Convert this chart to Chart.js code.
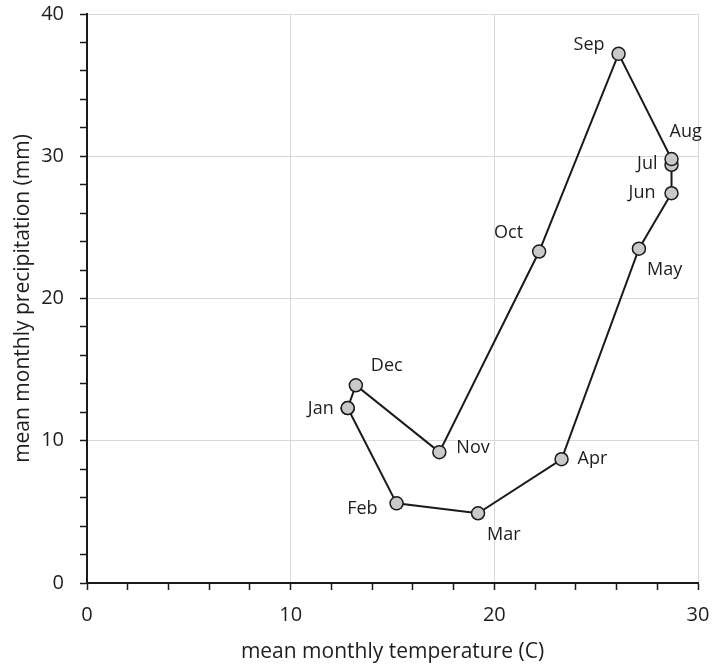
<!DOCTYPE html>
<html lang="en">
<head>
  <meta charset="UTF-8" />
  <title>Monthly temperature vs precipitation</title>
  <script src="https://cdn.jsdelivr.net/npm/chart.js"></script>
  <style>
    html, body { margin: 0; padding: 0; background: #fff; }
    #wrap { width: 713px; height: 669px; }
  </style>
</head>
<body>
  <div id="wrap"><canvas id="climChart" width="713" height="669"></canvas></div>

  <script>
    // data
    const months = ["Jan", "Feb", "Mar", "Apr", "May", "Jun", "Jul", "Aug", "Sep", "Oct", "Nov", "Dec"];
    const temperature = [12.8, 15.2, 19.2, 23.3, 27.1, 28.7, 28.7, 28.7, 26.1, 22.2, 17.3, 13.2];
    const precipitation = [12.3, 5.6, 4.9, 8.7, 23.5, 27.4, 29.4, 29.8, 37.2, 23.3, 9.2, 13.9];
    const xTickLabels = [0, 10, 20, 30];
    const yTickLabels = [0, 10, 20, 30, 40];

    // label offset from its point (px) and which side the text hangs on
    const labelOffset = {
      Jan: [-14, 1, "right"], Feb: [-19, 6, "right"], Mar: [9, 22, "left"],
      Apr: [16, 0, "left"], May: [8, 21, "left"], Jun: [-16, 0, "right"],
      Jul: [-14, -1, "right"], Aug: [-2, -27, "left"], Sep: [-14, -9, "right"],
      Oct: [-16, -19, "right"], Nov: [17, -4, "left"], Dec: [15, -19, "left"]
    };

    const points = months.map((m, i) => ({ x: temperature[i], y: precipitation[i] }));
    points.push(points[0]); // close the loop Dec -> Jan

    const font = "'Open Sans', 'DejaVu Sans', sans-serif";

    const monthLabels = {
      id: "monthLabels",
      afterDatasetsDraw(chart) {
        const ctx = chart.ctx;
        const meta = chart.getDatasetMeta(0);
        ctx.save();
        ctx.font = "18px " + font;
        ctx.fillStyle = "#1e1e1e";
        ctx.textBaseline = "middle";
        months.forEach((m, i) => {
          const el = meta.data[i];
          const [dx, dy, side] = labelOffset[m];
          ctx.textAlign = side;
          ctx.fillText(m, el.x + dx, el.y + dy);
        });
        ctx.restore();
      }
    };

    const isMajor = v => Math.abs(v % 10) < 1e-6;

    new Chart(document.getElementById("climChart"), {
      type: "scatter",
      data: {
        datasets: [{
          data: points,
          showLine: true,
          borderColor: "#1a1a1a",
          borderWidth: 2,
          pointRadius: 6.5,
          pointHoverRadius: 6.5,
          pointBackgroundColor: "#c9c9c9",
          pointBorderColor: "#1a1a1a",
          pointBorderWidth: 1.5,
          tension: 0
        }]
      },
      options: {
        responsive: false,
        animation: false,
        layout: { padding: { top: 14, right: 15, left: 0, bottom: 0 } },
        plugins: {
          legend: { display: false },
          tooltip: { enabled: false }
        },
        scales: {
          x: {
            type: "linear",
            min: 0,
            max: 30,
            afterFit: s => { s.height = 86; s.paddingLeft = 0; s.paddingRight = 0; },
            border: { display: true, color: "#1a1a1a", width: 2 },
            grid: {
              color: c => isMajor(c.tick.value) && c.tick.value > 0 ? "#d9d9d9" : "rgba(0,0,0,0)",
              tickColor: "#1a1a1a",
              tickWidth: 1.5,
              tickLength: 7,
              drawTicks: true
            },
            ticks: {
              stepSize: 2,
              autoSkip: false,
              maxRotation: 0,
              color: "#1e1e1e",
              padding: 13,
              font: { family: font, size: 20 },
              callback: v => xTickLabels.includes(v) ? String(v) : ""
            },
            title: {
              display: true,
              text: "mean monthly temperature (C)",
              color: "#1e1e1e",
              font: { family: font, size: 21 },
              padding: { top: 4 }
            }
          },
          y: {
            type: "linear",
            min: 0,
            max: 40,
            afterFit: s => { s.width = 87; s.paddingTop = 0; s.paddingBottom = 0; },
            border: { display: true, color: "#1a1a1a", width: 2 },
            grid: {
              color: c => isMajor(c.tick.value) && c.tick.value > 0 ? "#d9d9d9" : "rgba(0,0,0,0)",
              tickColor: "#1a1a1a",
              tickWidth: 1.5,
              tickLength: 7,
              drawTicks: true
            },
            ticks: {
              stepSize: 2,
              autoSkip: false,
              color: "#1e1e1e",
              padding: 16,
              font: { family: font, size: 20 },
              callback: v => yTickLabels.includes(v) ? String(v) : ""
            },
            title: {
              display: true,
              text: "mean monthly precipitation (mm)",
              color: "#1e1e1e",
              font: { family: font, size: 21 },
              padding: { top: 10, bottom: 0 }
            }
          }
        }
      },
      plugins: [monthLabels]
    });
  </script>
</body>
</html>
